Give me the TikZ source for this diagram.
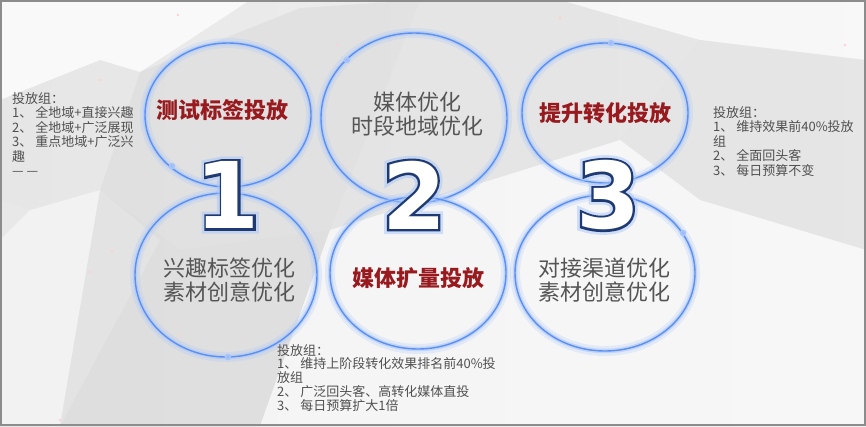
\documentclass[tikz,border=0pt]{standalone}
\usepackage{fontspec}
\setmainfont{DejaVu Sans}
\newfontfamily\cjk{Noto Sans CJK SC}
\newfontfamily\digitfont{DejaVu Sans Bold}
\newfontfamily\digitline[FakeBold=5]{DejaVu Sans Bold}
\newfontfamily\digitglow[FakeBold=11]{DejaVu Sans Bold}
\definecolor{ringblue}{HTML}{5B8FF2}
\definecolor{glowblue}{HTML}{A8C6FA}
\definecolor{darkred}{HTML}{981A1E}
\definecolor{txtgray}{HTML}{555555}
\definecolor{smallgray}{HTML}{505050}
\definecolor{navy}{HTML}{1F3A73}
\definecolor{framegray}{HTML}{8C8C8C}
\tikzset{
  shard/.style={draw=none},
  redlbl/.style={text=darkred, font=\cjk\bfseries\fontsize{22}{24}\selectfont, inner sep=0pt},
  graylbl/.style={text=txtgray, font=\cjk\fontsize{22}{24.5}\selectfont, align=center, inner sep=0pt},
  smalltxt/.style={text=smallgray, font=\cjk\fontsize{13}{14.5}\selectfont, align=left, inner sep=0pt, anchor=north west},
  digglow/.style={text=glowblue, text opacity=0.5, font=\digitglow\fontsize{92}{92}\selectfont, inner sep=0pt},
  digline/.style={text=navy, font=\digitline\fontsize{92}{92}\selectfont, inner sep=0pt},
  digfill/.style={text=white, font=\digitfont\fontsize{92}{92}\selectfont, inner sep=0pt},
  ringdot/.style={circle, fill=ringblue!60, draw=glowblue, line width=1.5pt, inner sep=0pt, minimum size=5pt}
}
\newcommand\glowring[5]{% name cx cy rx ry
  \draw[glowblue, opacity=0.25, line width=10pt] (#2,#3) ellipse [x radius=#4pt, y radius=#5pt];
  \draw[glowblue, opacity=0.55, line width=4.5pt] (#2,#3) ellipse [x radius=#4pt, y radius=#5pt];
  \draw[ringblue, line width=1.4pt] (#2,#3) ellipse [x radius=#4pt, y radius=#5pt];
  \coordinate (#1) at (#2,#3);}
\newcommand\bigdig[4]{% name x y digit
  \node[digglow] (#1g) at (#2,#3) {#4};
  \node[digline] (#1l) at (#2,#3) {#4};
  \node[digfill] (#1) at (#2,#3) {#4};}
\begin{document}
\begin{tikzpicture}[x=1pt,y=-1pt]
\useasboundingbox (0,0) rectangle (866,426);
% background
\fill[left color=gray!18, right color=gray!12] (0,0) rectangle (866,426);
\fill[shard, white, opacity=0.75] (0,0) -- (250,0) -- (140,72) -- (100,60) -- (0,100) -- cycle;
\fill[shard, gray!30, opacity=0.5] (140,72) -- (300,8) -- (420,0) -- (330,230) -- (180,250) -- (100,190) -- cycle;
\fill[shard, white, opacity=0.45] (30,210) -- (100,190) -- (160,240) -- (60,426) -- (0,426) -- (0,240) -- cycle;
\fill[shard, gray!35, opacity=0.45] (100,190) -- (180,250) -- (330,230) -- (260,426) -- (60,426) -- cycle;
\fill[shard, gray!25, opacity=0.5] (420,0) -- (560,0) -- (700,40) -- (620,140) -- (330,230) -- cycle;
\fill[shard, white, opacity=0.55] (560,0) -- (866,0) -- (866,60) -- (700,40) -- cycle;
\fill[shard, gray!28, opacity=0.45] (700,40) -- (866,60) -- (866,250) -- (700,200) -- (620,140) -- cycle;
\fill[shard, white, opacity=0.5] (330,230) -- (620,140) -- (700,200) -- (866,250) -- (866,426) -- (260,426) -- cycle;
\fill[shard, gray!20, opacity=0.35] (0,100) -- (100,60) -- (140,72) -- (100,190) -- (30,210) -- (0,200) -- cycle;
\foreach \p in {(100,80),(112,251),(90,272),(178,15),(338,45),(560,18),(845,45),(60,420),(180,336)}
  \fill[pink!70!white] \p circle (1.3pt);
% rings
\glowring{c1t}{228}{115}{83}{72}
\glowring{c2t}{414}{118}{93}{85}
\glowring{c3t}{605}{113}{83}{70}
\glowring{c1b}{226}{275}{91}{82}
\glowring{c2b}{418}{273}{88}{76}
\glowring{c3b}{605}{273}{90}{78}
\node[ringdot] (d1) at (347,60) {};
\node[ringdot] (d2) at (611,43) {};
\node[ringdot] (d3) at (683,233) {};
\node[ringdot] (d4) at (228,357) {};
\node[ringdot] (d5) at (172,166) {};
% digits
\bigdig{n1}{228}{195}{1}
\bigdig{n2}{414}{195}{2}
\bigdig{n3}{608}{195}{3}
% labels
\node[redlbl] (t1) at (222,110) {测试标签投放};
\node[graylbl] (t2) at (417,114) {媒体优化\\时段地域优化};
\node[redlbl] (t3) at (605,113) {提升转化投放};
\node[graylbl] (b1) at (229,280) {兴趣标签优化\\素材创意优化};
\node[redlbl] (b2) at (418,278) {媒体扩量投放};
\node[graylbl] (b3) at (604,280) {对接渠道优化\\素材创意优化};
% side notes
\node[smalltxt] (nl) at (12,92) {投放组：\\1、 全地域+直接兴趣\\2、 全地域+广泛展现\\3、 重点地域+广泛兴\\趣\\— —};
\node[smalltxt] (nr) at (713,106) {投放组：\\1、 维持效果前40\%投放\\组\\2、 全面回头客\\3、 每日预算不变};
\node[smalltxt, font=\cjk\fontsize{13}{13.8}\selectfont] (nb) at (277,344) {投放组：\\1、 维持上阶段转化效果排名前40\%投\\放组\\2、 广泛回头客、高转化媒体直投\\3、 每日预算扩大1倍};
% frame
\draw[framegray, line width=2pt] (1,1) rectangle (865,425);
\end{tikzpicture}
\end{document}
